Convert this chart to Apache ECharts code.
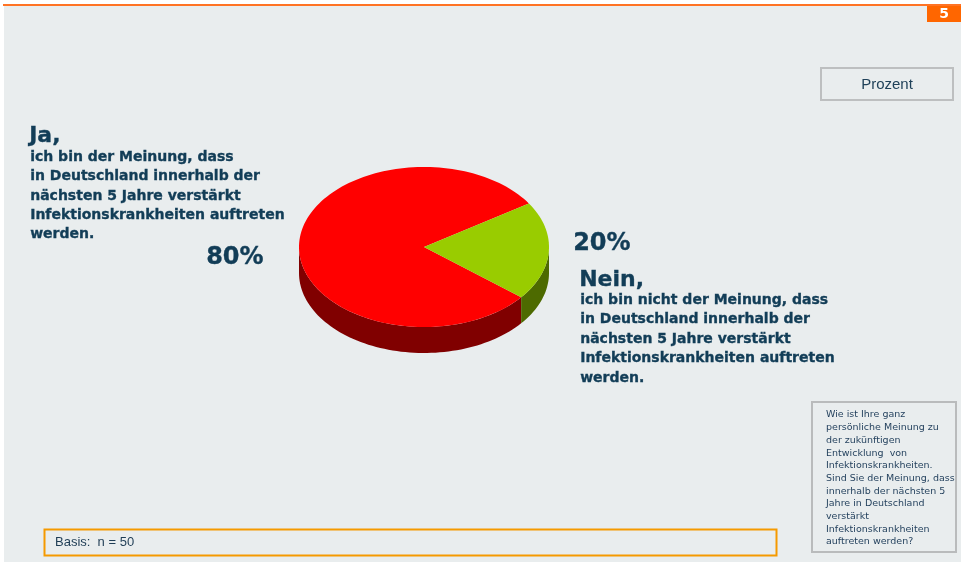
<!DOCTYPE html>
<html>
<head>
<meta charset="utf-8">
<script src="https://cdn.jsdelivr.net/npm/echarts@6/dist/echarts.min.js"></script>
<style>
  html, body { margin: 0; padding: 0; background: #ffffff; }
  #chart { width: 961px; height: 562px; }
</style>
</head>
<body>
<div id="chart"></div>
<script>
// Survey answers (percent of respondents)
const categories = ['Ja', 'Nein'];
const values = [80, 20];
const topColors = ['#ff0000', '#99cc00'];
const sideColors = ['#800000', '#4d6a00'];

const jaLines = [
  'ich bin der Meinung, dass',
  'in Deutschland innerhalb der',
  'nächsten 5 Jahre verstärkt',
  'Infektionskrankheiten auftreten',
  'werden.'
];
const neinLines = [
  'ich bin nicht der Meinung, dass',
  'in Deutschland innerhalb der',
  'nächsten 5 Jahre verstärkt',
  'Infektionskrankheiten auftreten',
  'werden.'
];
const questionLines = [
  'Wie ist Ihre ganz',
  'persönliche Meinung zu',
  'der zukünftigen',
  'Entwicklung  von',
  'Infektionskrankheiten.',
  'Sind Sie der Meinung, dass',
  'innerhalb der nächsten 5',
  'Jahre in Deutschland',
  'verstärkt',
  'Infektionskrankheiten',
  'auftreten werden?'
];
const basisText = 'Basis:  n = 50';
const unitText = 'Prozent';
const pageNumber = '5';

const TEXT = '#123d57';
const BOLD = 'DejaVu Sans, Verdana, sans-serif';

// Pie geometry (tilted disc)
const CX = 424, CY = 247, RX = 125, RY = 80, DEPTH = 26;
const START_DEG = 33; // first slice starts here, running counter-clockwise

const total = values.reduce((a, b) => a + b, 0);
const pct = values.map(v => Math.round(v / total * 100) + '%');

function pt(deg, dy) {
  const a = deg * Math.PI / 180;
  return [CX + RX * Math.cos(a), CY - RY * Math.sin(a) + (dy || 0)];
}
function arcPoints(a0, a1, dy) {
  const pts = [];
  const n = Math.max(2, Math.ceil(Math.abs(a1 - a0) / 2));
  for (let i = 0; i <= n; i++) pts.push(pt(a0 + (a1 - a0) * i / n, dy));
  return pts;
}

function renderSlice(params, api) {
  const idx = params.dataIndex;
  let before = 0;
  for (let i = 0; i < idx; i++) before += values[i];
  const v = api.value(0);
  const a0 = START_DEG + before / total * 360;
  const a1 = a0 + v / total * 360;
  const children = [];
  // visible rim: the part of the arc on the near (lower) half, angles 180..360 mod 360
  for (let k = -1; k <= 1; k++) {
    const lo = Math.max(a0, 180 + 360 * k);
    const hi = Math.min(a1, 360 + 360 * k);
    if (hi > lo) {
      const top = arcPoints(lo, hi, 0);
      const bot = arcPoints(hi, lo, DEPTH);
      children.push({
        type: 'polygon',
        shape: { points: top.concat(bot) },
        style: { fill: sideColors[idx] },
        z2: 1
      });
    }
  }
  const face = [[CX, CY]].concat(arcPoints(a0, a1, 0));
  children.push({
    type: 'polygon',
    shape: { points: face },
    style: { fill: topColors[idx] },
    z2: 2
  });
  return { type: 'group', children: children };
}

function heavy(t, font, color) {
  return { text: t, font: font, fill: color, stroke: color, lineWidth: 0.35 };
}

function textLines(lines, x, y0, step, font, color, thick) {
  return lines.map((t, i) => ({
    type: 'text',
    left: x, top: y0 + i * step,
    style: thick ? heavy(t, font, color) : { text: t, font: font, fill: color }
  }));
}

const graphics = [
  { type: 'rect', shape: { x: 4, y: 6, width: 957, height: 556 }, style: { fill: '#e9edee' }, z: -10 },
  { type: 'rect', shape: { x: 3, y: 4, width: 958, height: 2 }, style: { fill: '#ff7324' }, z: -5 },
  { type: 'rect', shape: { x: 927, y: 6, width: 34, height: 16 }, style: { fill: '#ff6600' }, z: -5 },
  { type: 'text', x: 944, y: 14.5, style: { text: pageNumber, font: 'bold 14px ' + BOLD, fill: '#ffffff', textAlign: 'center', textVerticalAlign: 'middle' } },

  { type: 'rect', shape: { x: 821, y: 68, width: 132, height: 32 }, style: { fill: 'none', stroke: '#bdbfc0', lineWidth: 2 } },
  { type: 'text', x: 887, y: 84.5, style: { text: unitText, font: '15px Liberation Sans, Arial, sans-serif', fill: '#1f4159', textAlign: 'center', textVerticalAlign: 'middle' } },

  { type: 'rect', shape: { x: 812, y: 402, width: 144, height: 150 }, style: { fill: 'none', stroke: '#b9bbbc', lineWidth: 2 } },

  { type: 'rect', shape: { x: 44.5, y: 529.5, width: 732, height: 26 }, style: { fill: 'none', stroke: '#f59a00', lineWidth: 2 } },
  { type: 'text', left: 55, top: 536, style: { text: basisText, font: '13px Liberation Sans, Arial, sans-serif', fill: '#1f3d55' } },

  { type: 'text', left: 29, top: 125, style: heavy(categories[0] + ',', 'bold 22px ' + BOLD, TEXT) },
  { type: 'text', left: 206, top: 246, style: heavy(pct[0], 'bold 24px ' + BOLD, TEXT) },
  { type: 'text', left: 573, top: 232, style: heavy(pct[1], 'bold 24px ' + BOLD, TEXT) },
  { type: 'text', left: 579, top: 269, style: heavy(categories[1] + ',', 'bold 22px ' + BOLD, TEXT) }
]
  .concat(textLines(jaLines, 30, 150, 19.4, 'bold 14px ' + BOLD, TEXT, true))
  .concat(textLines(neinLines, 580, 293, 19.5, 'bold 14px ' + BOLD, TEXT, true))
  .concat(textLines(questionLines, 826, 410, 12.7, '9.5px ' + BOLD, '#1f3d5a', false));

const chart = echarts.init(document.getElementById('chart'), null, { renderer: 'canvas' });
chart.setOption({
  backgroundColor: '#ffffff',
  animation: false,
  series: [{
    type: 'custom',
    coordinateSystem: 'none',
    renderItem: renderSlice,
    data: values.map((v, i) => ({ name: categories[i], value: [v] }))
  }],
  graphic: graphics
});
</script>
</body>
</html>
